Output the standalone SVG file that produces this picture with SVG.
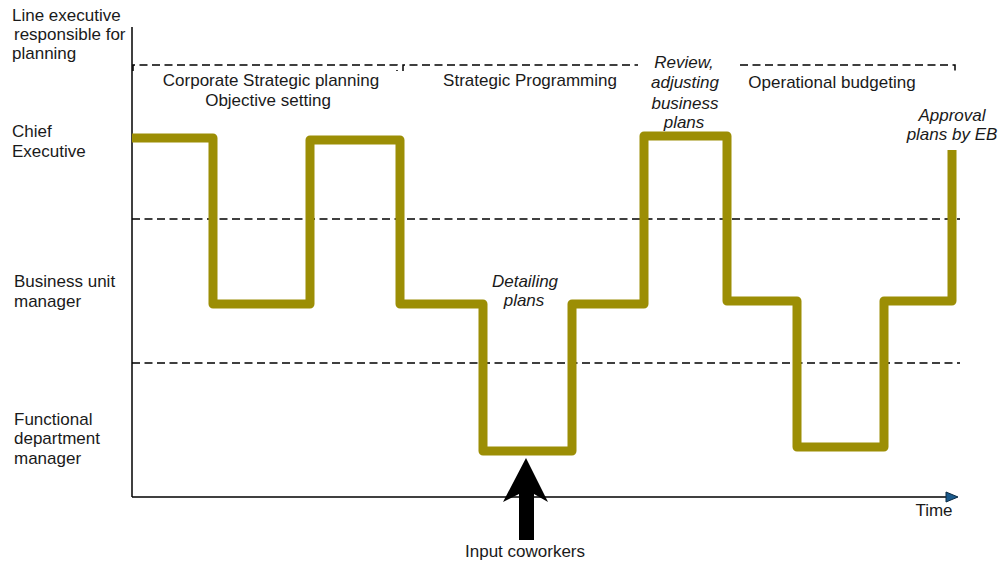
<svg xmlns="http://www.w3.org/2000/svg" width="1000" height="563" viewBox="0 0 1000 563">
<style>
text{font-family:"Liberation Sans",Arial,sans-serif;font-size:17px;fill:#1a1a1a}
.it{font-style:italic}
.dash{fill:none;stroke:#000;stroke-width:1.5;stroke-dasharray:8 4.5}
.axis{fill:none;stroke:#000;stroke-width:1.5}
.step{fill:none;stroke:#9c8e05;stroke-width:9;stroke-linejoin:round}
</style>
<defs>
<marker id="ah" markerWidth="14" markerHeight="12" refX="1" refY="6" orient="auto" markerUnits="userSpaceOnUse">
<path d="M1,1 L13,6 L1,11 Z" fill="#1b5a8c" stroke="#0b2a44" stroke-width="1"/>
</marker>
</defs>
<rect width="1000" height="563" fill="#fff"/>
<g id="axes">
<path class="axis" d="M132,27 V497"/>
<path class="axis" d="M132,497 H946" marker-end="url(#ah)"/>
</g>
<g id="dividers">
<path class="dash" d="M132,219 H960"/>
<path class="dash" d="M132,363 H960"/>
</g>
<g id="phases">
<path class="dash" d="M133,71 V65 H397 V71"/>
<path class="dash" d="M403,71 V65 H638"/>
<path class="dash" d="M740,65 H955 V72"/>
</g>
<g id="row-labels">
<text x="12" y="21">Line executive</text>
<text x="14" y="40">responsible for</text>
<text x="12" y="59">planning</text>
<text x="12" y="137">Chief</text>
<text x="12" y="157">Executive</text>
<text x="14" y="287">Business unit</text>
<text x="14" y="307">manager</text>
<text x="14" y="425">Functional</text>
<text x="14" y="444">department</text>
<text x="14" y="464">manager</text>
</g>
<g id="phase-labels" text-anchor="middle">
<text x="271" y="86">Corporate Strategic planning</text>
<text x="268" y="106">Objective setting</text>
<text x="530" y="86">Strategic Programming</text>
<text x="832" y="88">Operational budgeting</text>
</g>
<g id="connectors">
<path class="step" d="M132,138 H213 V304 H310 V140 H400 V304 H483 V451 H572 V304 H644 V136 H727 V301 H797 V447 H884 V301 H952 V150"/>
<path id="input-arrow" d="M526,458 L548,502 L534,494 L534,540 L519,540 L519,494 L503,502 Z" fill="#000"/>
</g>
<g id="annotations" text-anchor="middle">
<g class="it">
<text class="it" x="684" y="68">Review,</text>
<text class="it" x="685" y="88">adjusting</text>
<text class="it" x="685" y="109">business</text>
<text class="it" x="684" y="128">plans</text>
<text class="it" x="952" y="121">Approval</text>
<text class="it" x="952" y="140">plans by EB</text>
<text class="it" x="525" y="287">Detailing</text>
<text class="it" x="524" y="306">plans</text>
</g>
<text x="525" y="557">Input coworkers</text>
<text x="934" y="516">Time</text>
</g>
</svg>
